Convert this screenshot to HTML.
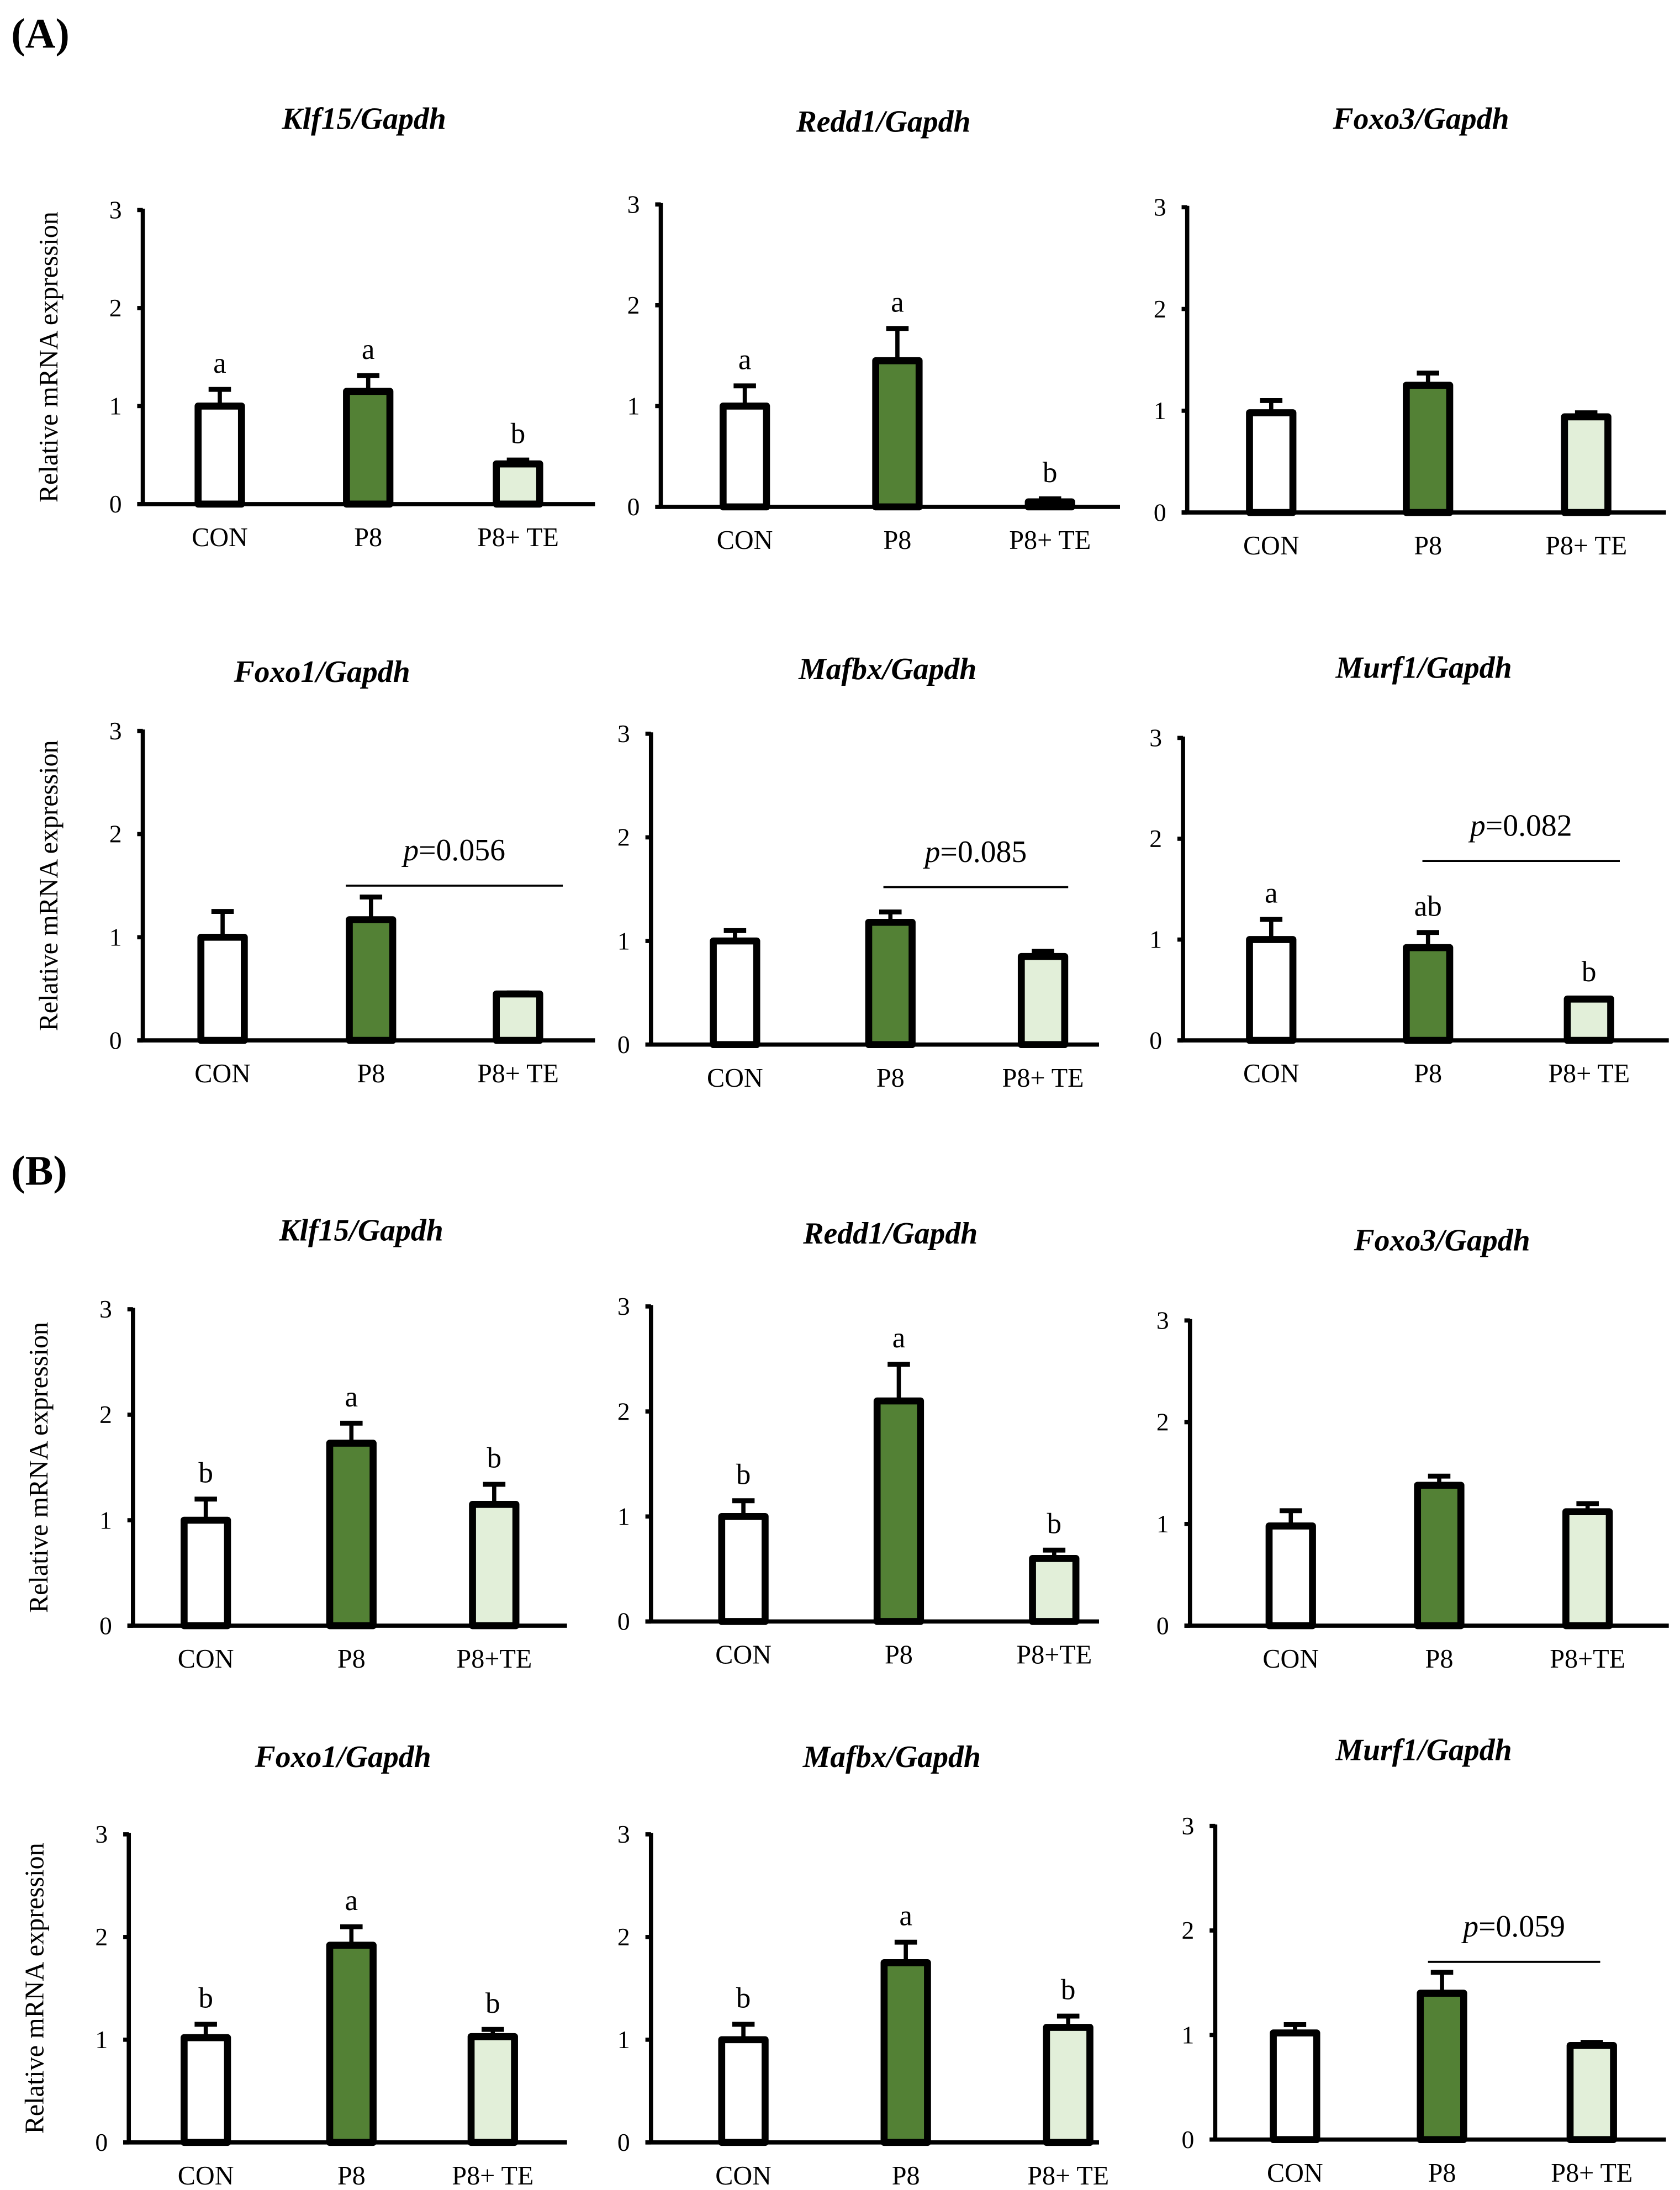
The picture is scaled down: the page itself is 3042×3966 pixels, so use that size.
<!DOCTYPE html>
<html><head><meta charset="utf-8"><style>
html,body{margin:0;padding:0;background:#fff}
svg{display:block}
text{font-family:"Liberation Serif","Times New Roman",serif;fill:#000}
</style></head><body>
<svg id="fig" xmlns="http://www.w3.org/2000/svg" width="3042" height="3966" viewBox="0 0 1200 1564" preserveAspectRatio="none">
<rect width="1200" height="1564" fill="#fff"/>
<text x="8" y="34" font-size="30" font-weight="bold">(A)</text>
<text x="8" y="846" font-size="30" font-weight="bold">(B)</text>
</svg>
<script>
const categories = ["CON", "P8", "P8+TE"];
const fills = ["#ffffff", "#538135", "#e2efd9"];
const yTicks = [0, 1, 2, 3];
const titles = ["Klf15/Gapdh","Redd1/Gapdh","Foxo3/Gapdh","Foxo1/Gapdh","Mafbx/Gapdh","Murf1/Gapdh","Klf15/Gapdh","Redd1/Gapdh","Foxo3/Gapdh","Foxo1/Gapdh","Mafbx/Gapdh","Murf1/Gapdh"];
const meansA1 = [1.0, 1.15, 0.41];
const errsA1 = [0.17, 0.16, 0.04];
const lettersA1 = ["a", "a", "b"];
const meansA2 = [1.0, 1.45, 0.05];
const errsA2 = [0.2, 0.32, 0.03];
const lettersA2 = ["a", "a", "b"];
const meansA3 = [0.98, 1.25, 0.94];
const errsA3 = [0.12, 0.12, 0.04];
const lettersA3 = ["", "", ""];
const meansA4 = [1.0, 1.17, 0.45];
const errsA4 = [0.25, 0.22, 0.01];
const lettersA4 = ["", "", ""];
const meansA5 = [1.0, 1.18, 0.85];
const errsA5 = [0.1, 0.1, 0.05];
const lettersA5 = ["", "", ""];
const meansA6 = [1.0, 0.92, 0.41];
const errsA6 = [0.2, 0.15, 0.01];
const lettersA6 = ["a", "ab", "b"];
const meansB1 = [1.0, 1.73, 1.15];
const errsB1 = [0.2, 0.19, 0.19];
const lettersB1 = ["b", "a", "b"];
const meansB2 = [1.0, 2.1, 0.6];
const errsB2 = [0.15, 0.35, 0.08];
const lettersB2 = ["b", "a", "b"];
const meansB3 = [0.98, 1.38, 1.12];
const errsB3 = [0.15, 0.09, 0.08];
const lettersB3 = ["", "", ""];
const meansB4 = [1.02, 1.92, 1.03];
const errsB4 = [0.13, 0.18, 0.07];
const lettersB4 = ["b", "a", "b"];
const meansB5 = [1.0, 1.75, 1.12];
const errsB5 = [0.15, 0.2, 0.11];
const lettersB5 = ["b", "a", "b"];
const meansB6 = [1.02, 1.4, 0.9];
const errsB6 = [0.08, 0.2, 0.03];
const lettersB6 = ["", "", ""];
const pTexts = ["", "", "", "p=0.056", "p=0.085", "p=0.082", "", "", "", "", "", "p=0.059"];
const pLevels = [0, 0, 0, 1.5, 1.52, 1.78, 0, 0, 0, 0, 0, 1.7];

const seriesMeans = [meansA1,meansA2,meansA3,meansA4,meansA5,meansA6,meansB1,meansB2,meansB3,meansB4,meansB5,meansB6];
const seriesErrs = [errsA1,errsA2,errsA3,errsA4,errsA5,errsA6,errsB1,errsB2,errsB3,errsB4,errsB5,errsB6];
const seriesLetters = [lettersA1,lettersA2,lettersA3,lettersA4,lettersA5,lettersA6,lettersB1,lettersB2,lettersB3,lettersB4,lettersB5,lettersB6];

const layout = [
 {ax:102,y3:150,y0:360,end:425,bx:[157,263,370],tx:260,ty:92,ylab:true},
 {ax:472,y3:146,y0:362,end:800,bx:[532,641,750],tx:631,ty:94},
 {ax:848,y3:148,y0:366,end:1190,bx:[908,1020,1133],tx:1015,ty:92},
 {ax:102,y3:522,y0:743,end:425,bx:[159,265,370],tx:230,ty:487,ylab:true,pl:247,pr:402},
 {ax:465,y3:524,y0:746,end:785,bx:[525,636,745],tx:634,ty:485,pl:631,pr:763},
 {ax:845,y3:527,y0:743,end:1192,bx:[908,1020,1135],tx:1017,ty:484,pl:1016,pr:1157},
 {ax:95,y3:935,y0:1161,end:405,bx:[147,251,353],tx:258,ty:886,ylab:true},
 {ax:465,y3:933,y0:1158,end:785,bx:[531,642,753],tx:636,ty:888},
 {ax:850,y3:943,y0:1161,end:1192,bx:[922,1028,1134],tx:1030,ty:893},
 {ax:92,y3:1310,y0:1530,end:405,bx:[147,251,352],tx:245,ty:1262,ylab:true},
 {ax:465,y3:1310,y0:1530,end:785,bx:[531,647,763],tx:637,ty:1262},
 {ax:868,y3:1304,y0:1528,end:1190,bx:[925,1030,1137],tx:1017,ty:1257,pl:1020,pr:1143}
];
const NS = "http://www.w3.org/2000/svg";
const svg = document.getElementById("fig");
function mk(tag, attrs, parent){const e=document.createElementNS(NS,tag);for(const k in attrs)e.setAttribute(k,attrs[k]);(parent||svg).appendChild(e);return e;}

layout.forEach((L, i) => {
  const g = mk("g", {});
  
  
  const yScale = v => L.y0 - (L.y0 - L.y3) * v / 3;
  const t = mk("text", {x:L.tx, y:L.ty, "font-size":22, "font-weight":"bold", "font-style":"italic", "text-anchor":"middle"}, g);
  t.textContent = titles[i];
  
  
  if (L.ylab) {
    const cy = (L.y0 + L.y3) / 2;
    const yl = mk("text", {x:0, y:0, "font-size":19, "text-anchor":"middle", transform:`translate(${L.ax-61},${cy}) rotate(-90)`}, g);
    yl.textContent = "Relative mRNA expression";
    
    
  }
  yTicks.forEach(v => {
    const y = yScale(v);
    const tk = mk("line", {x1:L.ax-4, x2:L.ax, y1:y, y2:y, stroke:"#000", "stroke-width":3}, g);
    
    
    const tl = mk("text", {x:L.ax-15, y:y+6, "font-size":18, "text-anchor":"end"}, g);
    tl.textContent = v;
    
    
  });
  const ya = mk("line", {x1:L.ax, x2:L.ax, y1:L.y3-1, y2:L.y0, stroke:"#000", "stroke-width":3}, g);
  
  
  const xa = mk("line", {x1:L.ax-4, x2:L.end, y1:L.y0, y2:L.y0, stroke:"#000", "stroke-width":3}, g);
  
  
  categories.forEach((c, j) => {
    const cx = L.bx[j], w = 31;
    const m = seriesMeans[i][j], e = seriesErrs[i][j];
    const yt = yScale(m), ye = yScale(m + e);
    const eb = mk("line", {x1:cx, x2:cx, y1:yt, y2:ye, stroke:"#000", "stroke-width":3}, g);
    
    
    const ec = mk("line", {x1:cx-8, x2:cx+8, y1:ye, y2:ye, stroke:"#000", "stroke-width":3.5}, g);
    
    
    const r = mk("rect", {x:cx-w/2, y:yt, width:w, height:Math.max(L.y0-yt,0.5), fill:fills[j], stroke:"#000", "stroke-width":5, "stroke-linejoin":"round"}, g);
    
    
    const lt = seriesLetters[i][j];
    if (lt) {
      const tx = mk("text", {x:cx, y:ye-12, "font-size":21, "text-anchor":"middle"}, g);
      tx.textContent = lt;
      
      
    }
    const cl = mk("text", {x:cx, y:L.y0+30, "font-size":19, "text-anchor":"middle"}, g);
    cl.textContent = c === "P8+TE" && (i < 6 || i >= 9) ? "P8+ TE" : c;
    
    
  });
  if (pTexts[i]) {
    const py = yScale(pLevels[i]);
    const pl = mk("line", {x1:L.pl, x2:L.pr, y1:py, y2:py, stroke:"#000", "stroke-width":1.5}, g);
    
    
    const pt = mk("text", {x:(L.pl+L.pr)/2, y:py-18, "font-size":22, "text-anchor":"middle"}, g);
    pt.innerHTML = '<tspan font-style="italic">p</tspan>' + pTexts[i].slice(1);
    
    
  }
});
</script>
</body></html>
